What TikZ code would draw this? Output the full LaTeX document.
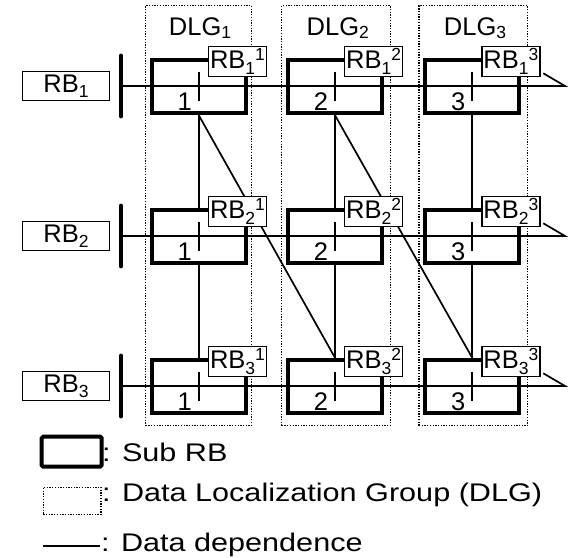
\documentclass[tikz,border=0pt]{standalone}
\usepackage{fontspec}
\setmainfont{Liberation Sans}
\newfontfamily\legfont[FakeStretch=1.2]{Liberation Sans}
\newcommand\RBlab[2]{RB\raisebox{-6pt}{\fontsize{17.5}{18}\selectfont #1}\raisebox{8.5pt}{\fontsize{17.5}{18}\selectfont #2}}
\newcommand\RBrow[1]{RB\raisebox{-5pt}{\fontsize{17.5}{18}\selectfont #1}}
\newcommand\DLGlab[1]{DLG\raisebox{-3.5pt}{\fontsize{17.5}{18}\selectfont #1}}
\begin{document}
\begin{tikzpicture}[x=1pt,y=-1pt,
  font=\fontsize{25.5}{30}\selectfont,
  subrb/.style={draw, line width=4pt, minimum width=94pt, minimum height=53.5pt, inner sep=0pt},
  rblab/.style={draw, fill=white, line width=1.3pt, minimum width=58pt, minimum height=29.5pt, inner sep=0pt, anchor=north west},
  rowlab/.style={draw, line width=1.3pt, minimum width=87pt, minimum height=29pt, inner sep=0pt},
  dlg/.style={draw, dash pattern=on 1.3pt off 1.4pt, line width=1.1pt, inner sep=0pt},
  dep/.style={line width=1.7pt},
  busbar/.style={line width=4.8pt, line cap=round},
  hline/.style={line width=1.7pt},
  tickmark/.style={line width=1.7pt},
  legtext/.style={anchor=base west, inner sep=0pt, font=\legfont\fontsize{25.5}{30}\selectfont}]
\useasboundingbox (0,0) rectangle (570,557);

% DLG groups
\foreach \c/\x/\w in {1/198.5/105.6,2/336/108.6,3/473.35/108.7}{
  \node[dlg, minimum width=\w pt, minimum height=419.8pt] (g\c) at (\x,215.6) {};
}
\node[anchor=base, inner sep=0pt] (gl1) at (200,35) {\DLGlab{1}};
\node[anchor=base, inner sep=0pt] (gl2) at (337.8,35) {\DLGlab{2}};
\node[anchor=base, inner sep=0pt] (gl3) at (475,35) {\DLGlab{3}};

% rows
\foreach \r/\y in {1/86,2/236,3/386}{
  \node[rowlab] (rl\r) at (66,\y) {\RBrow{\r}};
  \coordinate (bt\r) at (121,\y-30);
  \coordinate (bb\r) at (121,\y+30);
  \coordinate (bm\r) at (121,\y);
  \coordinate (e\r) at (565,\y);
  \coordinate (h\r) at (543.3,\y-12.7);
  \draw[busbar] (bt\r) -- (bb\r);
  \draw[hline] (bm\r) -- (e\r) -- (h\r);
  \foreach \c/\x in {1/198.8,2/335,3/472.2}{
    \node[subrb] (b\r\c) at (\x,\y+0.5) {};
    \draw[tickmark] (\x,\y-14.5) -- (\x,\y+15);
    \node[anchor=base, inner sep=0pt] (n\r\c) at (\x-14,\y+24) {\c};
  }
}

% data dependences
\foreach \c in {1,2,3}{
  \draw[dep] (b1\c.south) -- (b2\c.north);
  \draw[dep] (b2\c.south) -- (b3\c.north);
}
\draw[dep] (b11.south) -- (b32.north);
\draw[dep] (b12.south) -- (b33.north);

% sub RB labels
\foreach \r/\y in {1/86,2/236,3/386}{
  \foreach \c/\x in {1/198.8,2/335,3/472.2}{
    \node[rblab] (l\r\c) at (\x+9,\y-40) {\RBlab{\r}{\c}};
  }
}

% legend
\node[draw, line width=4pt, minimum width=60pt, minimum height=30pt, inner sep=0pt, rounded corners=1.5pt] (legsub) at (71.7,451.7) {};
\node[legtext] (tsub) at (102,461.7) {: Sub RB};
\node[dlg, minimum width=57.7pt, minimum height=27pt] (legdlg) at (72.15,500.8) {};
\node[legtext] (tdlg) at (102,501.7) {: Data Localization Group (DLG)};
\coordinate (d1) at (43.3,546);
\coordinate (d2) at (100,546);
\draw[dep] (d1) -- (d2);
\node[legtext] (tdep) at (101,551) {: Data dependence};
\end{tikzpicture}
\end{document}
